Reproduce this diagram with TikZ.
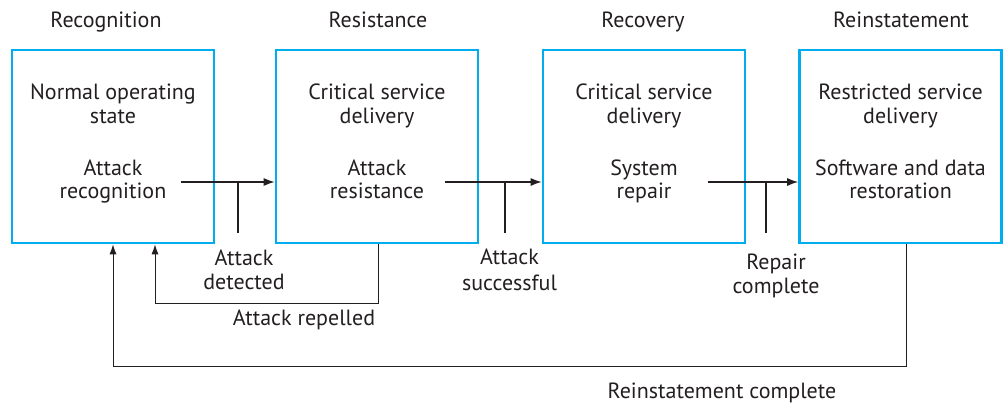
\documentclass[tikz,border=0pt]{standalone}
\usepackage{fontspec}
\setmainfont{PT Sans}
\usetikzlibrary{arrows.meta}
\definecolor{boxblue}{RGB}{0,174,239}
\definecolor{ink}{RGB}{35,31,32}
\tikzset{
  stage/.style={draw=boxblue, line width=2.6pt, minimum width=202pt, minimum height=193pt, inner sep=0pt},
  txt/.style={text=ink, font=\fontsize{22}{24}\selectfont, inner sep=0pt, anchor=base},
  flow/.style={draw=ink, line width=1.3pt, -{Latex[length=11pt,width=8pt]}},
  tick/.style={draw=ink, line width=1.3pt},
  back/.style={draw=ink, line width=1pt, -{Latex[length=10pt,width=7pt]}}
}
\begin{document}
\begin{tikzpicture}[x=1pt,y=-1pt]
\useasboundingbox (0,0) rectangle (1008,405);
% headings
\node[txt] (h1) at (106,27) {Recognition};
\node[txt] (h2) at (378,27) {Resistance};
\node[txt] (h3) at (643,27) {Recovery};
\node[txt] (h4) at (901,27) {Reinstatement};
% boxes
\node[stage] (b1) at (113,146.5) {};
\node[stage] (b2) at (377,146.5) {};
\node[stage] (b3) at (644,146.5) {};
\node[stage] (b4) at (900.5,146.5) {};
% box texts
\node[txt] (b1a) at (113,99) {Normal operating};
\node[txt] (b1b) at (113,123) {state};
\node[txt] (b1c) at (113,175) {Attack};
\node[txt] (b1d) at (113,198) {recognition};
\node[txt] (b2a) at (377,99) {Critical service};
\node[txt] (b2b) at (377,123) {delivery};
\node[txt] (b2c) at (377,175) {Attack};
\node[txt] (b2d) at (377,198) {resistance};
\node[txt] (b3a) at (644,99) {Critical service};
\node[txt] (b3b) at (644,123) {delivery};
\node[txt] (b3c) at (644,175) {System};
\node[txt] (b3d) at (644,198) {repair};
\node[txt] (b4a) at (900.5,99) {Restricted service};
\node[txt] (b4b) at (900.5,123) {delivery};
\node[txt] (b4c) at (900.5,175) {Software and data};
\node[txt] (b4d) at (900.5,198) {restoration};
% arrow start points and ticks
\coordinate (s1) at (181,182);
\coordinate (s2) at (445,182);
\coordinate (s3) at (708,182);
\coordinate (t1a) at (238,182); \coordinate (t1b) at (238,233);
\coordinate (t2a) at (505,182); \coordinate (t2b) at (505,233);
\coordinate (t3a) at (766,182); \coordinate (t3b) at (766,233);
\draw[flow] (s1) -- (s1 -| b2.west);
\draw[flow] (s2) -- (s2 -| b3.west);
\draw[flow] (s3) -- (s3 -| b4.west);
\draw[tick] (t1a) -- (t1b);
\draw[tick] (t2a) -- (t2b);
\draw[tick] (t3a) -- (t3b);
% labels
\node[txt] (l1a) at (244,265) {Attack};
\node[txt] (l1b) at (244,289) {detected};
\node[txt] (l2a) at (509.5,264) {Attack};
\node[txt] (l2b) at (509.5,290) {successful};
\node[txt] (l3a) at (776,269) {Repair};
\node[txt] (l3b) at (776,293) {complete};
\node[txt] (l4) at (304,325) {Attack repelled};
\node[txt] (l5) at (722,398) {Reinstatement complete};
% feedback
\coordinate (r1) at (378,303);
\coordinate (r2) at (155,303);
\draw[back] (b2.south -| r1) -- (r1) -- (r2) -- (r2 |- b1.south);
\coordinate (q1) at (906,366);
\coordinate (q2) at (113,366);
\draw[back] (b4.south -| q1) -- (q1) -- (q2) -- (b1.south);
\end{tikzpicture}
\end{document}
